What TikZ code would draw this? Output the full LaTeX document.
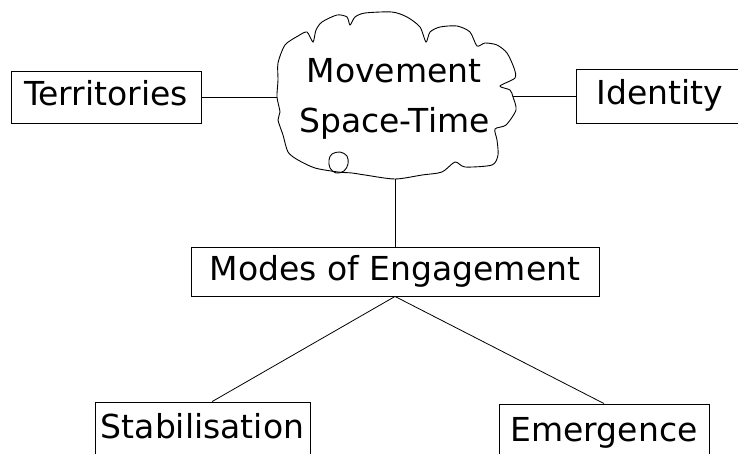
\documentclass[tikz,border=0pt]{standalone}
\usepackage{fontspec}
\setmainfont{DejaVu Sans}
\begin{document}
\begin{tikzpicture}[x=1pt,y=-1pt,
  box/.style={draw=black, line width=0.9pt, inner sep=0pt, text height=25pt, text depth=8pt,
              font=\fontsize{33}{40}\selectfont},
  cloudtext/.style={anchor=base, inner sep=0pt, font=\fontsize{33}{40}\selectfont},
  link/.style={draw=black, line width=0.8pt},
  cloudline/.style={draw=black, line width=0.9pt}]
\useasboundingbox (0,0) rectangle (738,453);
\clip (0,0) rectangle (738,453);

% boxes
\node[box, minimum width=190pt, minimum height=52pt] (terr) at (106,97) {Territories};
\node[box, minimum width=168pt, minimum height=54pt] (ident) at (660,96) {Identity};
\node[box, minimum width=408pt, minimum height=49pt] (modes) at (395,271.5) {Modes of Engagement};
\node[box, minimum width=215pt, minimum height=55pt] (stab) at (202.5,429.5) {Stabilisation};
\node[box, minimum width=210pt, minimum height=57pt] (emer) at (604,432.5) {Emergence};

% cloud
\draw[cloudline] plot[smooth cycle, tension=0.45] coordinates {
  (280,112) (277,97) (278,80) (278,63) (285,45) (298,36) (307,32) (313,42)
  (316,30) (322,22) (337,15) (347,17) (350,25)
  (355,17) (365,13) (392,12) (407,17) (420,27) (426,42)
  (430,32) (440,27) (457,26) (470,32) (477,46)
  (485,43) (497,45) (507,53) (514,68) (515,78) (500,86)
  (510,90) (513,97) (516,110) (506,125) (495,129)
  (497,140) (498,155) (492,165) (465,167) (455,162)
  (442,172) (422,175) (395,179) (365,175) (352,173) (338,172)
  (315,168) (298,160) (288,152) (283,135) (278,120)};
\draw[cloudline] plot[smooth cycle, tension=0.6] coordinates {
  (329,160) (332,154) (340,152) (347,156) (348,164) (344,171) (336,173) (330,168)};
\node[cloudtext] (mov) at (394,82) {Movement};
\node[cloudtext] (st) at (394.5,132) {Space-Time};
\coordinate (cL) at (277,97);
\coordinate (cR) at (513,96);
\coordinate (cB) at (395,179);

% connectors
\draw[link] (terr.east) -- (cL);
\draw[link] (cR) -- (ident.west);
\draw[link] (cB) -- (modes.north);
\draw[link] (modes.south) -- (stab.71);
\draw[link] (modes.south) -- (emer.north);
\end{tikzpicture}
\end{document}
